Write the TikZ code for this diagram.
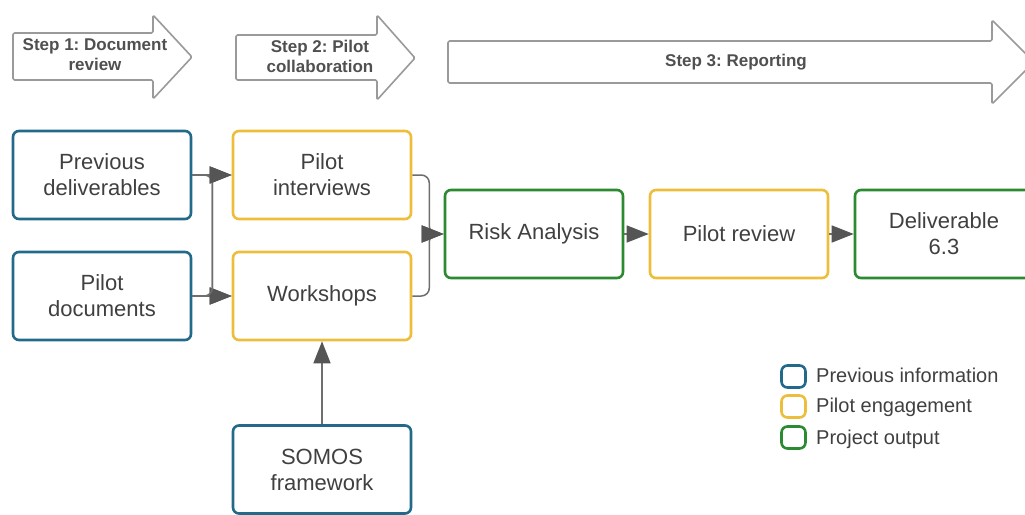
\documentclass[tikz,border=0pt]{standalone}
\usepackage{fontspec}
\setmainfont{Liberation Sans}
\usetikzlibrary{arrows.meta}
\frenchspacing
\definecolor{cblue}{HTML}{22698A}
\definecolor{cyellow}{HTML}{EDBE3C}
\definecolor{cgreen}{HTML}{2C8A30}
\definecolor{txtgray}{HTML}{404040}
\definecolor{linegray}{HTML}{6E6E6E}
\definecolor{tipgray}{HTML}{555555}
\definecolor{stepgray}{HTML}{9A9A9A}
\definecolor{steptxt}{HTML}{505050}
\tikzset{
  procbox/.style={draw, line width=2.6pt, rounded corners=6pt, fill=white,
    minimum width=178pt, minimum height=88pt, align=center, inner sep=0pt,
    text=txtgray, font=\fontsize{22}{26}\selectfont},
  bluebox/.style={procbox, draw=cblue},
  yellowbox/.style={procbox, draw=cyellow},
  greenbox/.style={procbox, draw=cgreen},
  conn/.style={draw=linegray, line width=1.5pt, rounded corners=8pt,
    -{Triangle[length=22pt,width=17pt,color=tipgray,fill=tipgray]}},
  stepshape/.style={draw=stepgray, line width=1.6pt, fill=white, rounded corners=1.5pt, line join=round},
  steplabel/.style={align=center, text=steptxt, inner sep=0pt,
    font=\fontsize{17}{20}\selectfont\bfseries},
  legsq/.style={draw, line width=2.6pt, rounded corners=6pt, minimum width=24pt, minimum height=22pt, inner sep=0pt},
  legtxt/.style={anchor=base west, inner sep=0pt, text=txtgray, font=\fontsize{20}{24}\selectfont},
}
\begin{document}
\begin{tikzpicture}[x=1pt,y=-1pt]
\useasboundingbox (0,0) rectangle (1025,514);
\clip (0,0) rectangle (1025,514);
\fill[white] (0,0) rectangle (1025,514);

% step arrows
\draw[stepshape] (13,33) -- (153,33) -- (153,15) -- (192,57) -- (153,99) -- (153,80) -- (13,80) -- cycle;
\node[steplabel] (s1) at (95,55) {Step 1: Document\\review};
\draw[stepshape] (236,35) -- (377,35) -- (377,15) -- (415,58) -- (377,100) -- (377,80) -- (236,80) -- cycle;
\node[steplabel] (s2) at (320,56) {Step 2: Pilot\\collaboration};
\draw[stepshape] (448,41) -- (992,41) -- (992,20) -- (1034,62) -- (992,104) -- (992,83) -- (448,83) -- cycle;
\node[steplabel] (s3) at (736,62) {Step 3: Reporting};

% boxes
\node[bluebox] (prev) at (102,175) {Previous\\deliverables};
\node[bluebox] (docs) at (102,296) {Pilot\\documents};
\node[yellowbox] (int) at (322,175) {Pilot\\interviews};
\node[yellowbox] (work) at (322,296) {Workshops};
\node[greenbox] (risk) at (534,234) {Risk Analysis};
\node[yellowbox] (rev) at (739,234) {Pilot review};
\node[greenbox] (deliv) at (944,234) {Deliverable\\6.3};
\node[bluebox] (somos) at (322,469.5) {SOMOS\\framework};

% connectors
\draw[conn] (prev.east) -- (int.west);
\draw[conn] (docs.east) -- (work.west);
\draw[conn] (prev.east) -- ++(20,0) |- (work.west);
\draw[conn] (docs.east) -- ++(20,0) |- (int.west);
\draw[conn] (int.east) -- ++(17,0) |- (risk.west);
\draw[conn] (work.east) -- ++(17,0) |- (risk.west);
\draw[conn] (risk.east) -- (rev.west);
\draw[conn] (rev.east) -- (deliv.west);
\draw[conn] (somos.north) -- (work.south);

% legend
\node[legsq, draw=cblue] (lb) at (793.5,376.5) {};
\node[legsq, draw=cyellow] (ly) at (793.5,406.5) {};
\node[legsq, draw=cgreen] (lg) at (793.5,437.5) {};
\node[legtxt] (lbt) at (816,382) {Previous information};
\node[legtxt] (lyt) at (816,412) {Pilot engagement};
\node[legtxt] (lgt) at (816,444) {Project output};
\end{tikzpicture}
\end{document}
